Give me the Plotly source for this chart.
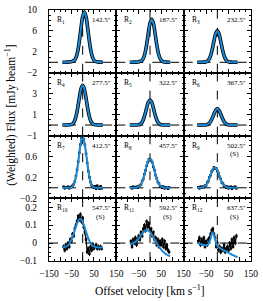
import plotly.graph_objects as go
from plotly.subplots import make_subplots

# ---------------- data ----------------
velocity_fit = [-90, -82.5, -75, -67.5, -60, -52.5, -45, -37.5, -30, -22.5, -15, -7.5, 0,
                7.5, 15, 22.5, 30, 37.5, 45, 52.5, 60, 67.5, 75, 82.5, 90]
velocity_data = [-85, -80, -75, -70, -65, -60, -55, -50, -45, -40, -35, -30, -25, -20, -15, -10, -5, 0,
                 5, 10, 15, 20, 25, 30, 35, 40, 45, 50, 55, 60, 65, 70, 75, 80, 85]

region_labels = ["R<sub>1</sub>", "R<sub>2</sub>", "R<sub>3</sub>", "R<sub>4</sub>", "R<sub>5</sub>",
                 "R<sub>6</sub>", "R<sub>7</sub>", "R<sub>8</sub>", "R<sub>9</sub>", "R<sub>10</sub>",
                 "R<sub>11</sub>", "R<sub>12</sub>"]
region_offsets = ["142.5″", "187.5″", "232.5″", "277.5″", "322.5″", "367.5″",
                  "412.5″", "457.5″", "502.5″", "547.5″", "592.5″", "637.5″"]
region_flags = ["", "", "", "", "", "", "", "", "(S)", "(S)", "(S)", "(S)"]

fit_R1 = [0.0, 0.0, 0.02, 0.03, 0.05, 0.08, 0.2, 0.35, 0.85, 2.0, 4.0, 6.5, 8.7, 9.6, 8.7, 6.5, 4.0,
          2.0, 0.85, 0.3, 0.12, 0.06, 0.03, 0.02, 0.0]
fit_R2 = [0.0, 0.0, 0.02, 0.03, 0.04, 0.07, 0.17, 0.3, 0.72, 1.7, 3.4, 5.55, 7.45, 8.2, 7.45, 5.55,
          3.4, 1.7, 0.72, 0.26, 0.1, 0.05, 0.03, 0.02, 0.0]
fit_R3 = [0.0, 0.0, 0.01, 0.02, 0.03, 0.06, 0.18, 0.53, 1.27, 2.5, 4.07, 5.44, 6.0, 5.44, 4.07, 2.5,
          1.27, 0.53, 0.18, 0.06, 0.03, 0.02, 0.01, 0.0, 0.0]
fit_R4 = [0.0, 0.0, 0.01, 0.01, 0.02, 0.04, 0.11, 0.33, 0.8, 1.58, 2.58, 3.45, 3.8, 3.45, 2.58, 1.58,
          0.8, 0.33, 0.11, 0.04, 0.02, 0.01, 0.01, 0.0, 0.0]
fit_R5 = [0.0, 0.0, 0.0, 0.01, 0.01, 0.02, 0.07, 0.21, 0.51, 1.0, 1.63, 2.18, 2.4, 2.18, 1.63, 1.0,
          0.51, 0.21, 0.07, 0.02, 0.01, 0.01, 0.0, 0.0, 0.0]
fit_R6 = [0.0, 0.0, 0.0, 0.0, 0.01, 0.01, 0.05, 0.14, 0.33, 0.64, 1.05, 1.41, 1.55, 1.41, 1.05, 0.64,
          0.33, 0.14, 0.05, 0.01, 0.01, 0.0, 0.0, 0.0, 0.0]
fit_R7 = [0.0, 0.0, 0.0, 0.0, 0.0, 0.003, 0.03, 0.085, 0.205, 0.4, 0.66, 0.88, 0.98, 0.88, 0.66, 0.4,
          0.205, 0.085, 0.03, 0.003, 0.0, 0.0, 0.0, 0.0, 0.0]
fit_R8 = [0.0, 0.0, 0.0, 0.0, 0.006, 0.018, 0.044, 0.095, 0.179, 0.292, 0.415, 0.513, 0.55, 0.513,
          0.415, 0.292, 0.179, 0.095, 0.044, 0.018, 0.006, 0.0, 0.0, 0.0, 0.0]
fit_R9 = [0.0, 0.0, 0.002, 0.007, 0.02, 0.046, 0.093, 0.163, 0.248, 0.329, 0.378, 0.378, 0.329,
          0.248, 0.163, 0.093, 0.046, 0.02, 0.007, 0.002, 0.0, 0.0, 0.0, 0.0, 0.0]
fit_R10 = [-0.024, -0.023, -0.02, -0.015, -0.005, 0.012, 0.035, 0.063, 0.093, 0.118, 0.133, 0.133,
           0.118, 0.093, 0.063, 0.035, 0.012, -0.005, -0.015, -0.02, -0.023, -0.024, -0.025, -0.025, -0.025]
fit_R11 = [-0.005, -0.003, 0.0, 0.005, 0.012, 0.022, 0.035, 0.048, 0.06, 0.068, 0.072, 0.07, 0.062,
           0.048, 0.032, 0.015, 0.0, -0.015, -0.028, -0.04, -0.05, -0.058, -0.065, -0.07, -0.073]
fit_R12 = [0.0, -0.003, -0.006, -0.009, -0.011, -0.012, -0.01, 0.0, 0.025, 0.06, 0.045, 0.01, -0.015,
           -0.024, -0.03, -0.036, -0.041, -0.046, -0.051, -0.056, -0.061, -0.066, -0.07, -0.075, -0.078]

data_R7 = [0.02, -0.01, 0.01, 0.0, 0.02, -0.01, 0.01, 0.02, 0.04, 0.07, 0.12, 0.22, 0.34, 0.5, 0.67,
           0.83, 0.95, 0.99, 0.93, 0.82, 0.65, 0.48, 0.32, 0.2, 0.11, 0.05, 0.03, 0.0, 0.03, -0.02,
           0.04, 0.01, -0.02, 0.03, -0.01]
data_R8 = [0.01, -0.01, 0.02, 0.0, 0.01, 0.02, 0.0, 0.03, 0.05, 0.07, 0.13, 0.17, 0.26, 0.33, 0.42,
           0.49, 0.54, 0.55, 0.52, 0.49, 0.4, 0.34, 0.24, 0.18, 0.11, 0.08, 0.03, 0.03, 0.0, 0.02,
           -0.01, 0.01, 0.0, -0.02, 0.01]
data_R9 = [0.01, -0.01, 0.02, 0.0, 0.02, 0.01, 0.04, 0.05, 0.1, 0.13, 0.2, 0.24, 0.31, 0.34, 0.39,
           0.37, 0.37, 0.32, 0.28, 0.21, 0.17, 0.1, 0.08, 0.04, 0.03, 0.0, 0.02, -0.01, 0.01, 0.02,
           -0.02, 0.01, 0.0, 0.02, -0.01]
data_R10 = [-0.02, -0.04, -0.01, -0.03, 0.0, -0.02, 0.02, 0.01, 0.05, 0.04, 0.08, 0.1, 0.12, 0.15,
            0.13, 0.16, 0.12, 0.14, 0.09, 0.06, 0.02, -0.05, -0.03, -0.06, -0.02, -0.04, -0.01,
            -0.03, -0.02, -0.01, -0.03, -0.02, -0.03, -0.02, -0.03]
data_R11 = [0.01, -0.02, 0.02, 0.0, 0.03, -0.01, 0.02, 0.04, 0.02, 0.06, 0.04, 0.08, 0.1, 0.07, 0.12,
            0.09, 0.11, 0.07, 0.08, 0.04, 0.06, 0.02, 0.03, -0.01, 0.02, -0.02, 0.01, -0.01, 0.02,
            -0.02, 0.01, -0.03, -0.01, -0.04, -0.05]
data_R12 = [0.01, 0.03, -0.01, 0.02, 0.0, 0.03, -0.02, 0.01, -0.01, 0.02, 0.03, 0.05, 0.07, 0.08,
            0.05, 0.03, -0.02, 0.0, -0.04, -0.02, -0.05, -0.03, -0.04, -0.01, -0.05, -0.03, -0.02,
            -0.04, 0.0, -0.03, 0.02, -0.02, 0.03, 0.0, 0.04]

fits = [fit_R1, fit_R2, fit_R3, fit_R4, fit_R5, fit_R6, fit_R7, fit_R8, fit_R9, fit_R10, fit_R11, fit_R12]
datas = [None, None, None, None, None, None, data_R7, data_R8, data_R9, data_R10, data_R11, data_R12]
data_errors = [0, 0, 0, 0, 0, 0, 0.02, 0.02, 0.02, 0.012, 0.012, 0.012]

x_tickvals = [-150, -100, -50, 0, 50, 100, 150]
x_ticktext_first = ["−150", "", "−50", "", "50", "", "150"]
x_ticktext_other = ["", "", "−50", "", "50", "", "150"]

row_ranges = [[-2, 10], [-1, 5], [-0.2, 1.0], [-0.1, 0.25]]
row_tickvals = [[-2, 2, 6, 10], [-1, 1, 3], [-0.2, 0.2, 0.6], [-0.1, 0, 0.1, 0.2]]
row_ticktext = [["−2", "2", "6", "10"], ["−1", "1", "3"], ["−0.2", "0.2", "0.6"], ["−0.1", "0", "0.1", "0.2"]]
row_minor = [1, 0.5, 0.1, 0.025]

# ---------------- figure ----------------
FONT = "Liberation Serif"
BLUE = "#1a8ad8"

fig = make_subplots(rows=4, cols=3, shared_xaxes=True, shared_yaxes=True,
                    horizontal_spacing=0, vertical_spacing=0)

for i in range(12):
    r, c = i // 3 + 1, i % 3 + 1
    n = i + 1
    fit = fits[i]
    d = datas[i]
    if d is None:
        fig.add_trace(go.Scatter(x=velocity_fit, y=fit, mode="lines", line=dict(color="black", width=3.6, shape="spline"),
                                 hoverinfo="skip", showlegend=False), row=r, col=c)
    else:
        fig.add_trace(go.Scatter(x=velocity_data, y=d, mode="lines+markers",
                                 line=dict(color="black", width=1.2),
                                 marker=dict(color="black", size=2.5, symbol="square"),
                                 error_y=dict(type="constant", value=data_errors[i], color="black", thickness=1, width=0),
                                 showlegend=False), row=r, col=c)
    fig.add_trace(go.Scatter(x=velocity_fit, y=fit, mode="lines", line=dict(color=BLUE, width=2, shape="spline"),
                             showlegend=False), row=r, col=c)
    # dashed reference lines
    fig.add_hline(y=0, row=r, col=c, line=dict(color="black", width=1, dash="dash"), layer="below")
    fig.add_vline(x=0, row=r, col=c, line=dict(color="black", width=1, dash="dash"), layer="below")

    xr = "x domain" if n == 1 else f"x{n} domain"
    yr = "y domain" if n == 1 else f"y{n} domain"
    fig.add_annotation(xref=xr, yref=yr, x=0.09, y=0.84, text=region_labels[i], showarrow=False,
                       xanchor="left", yanchor="middle", font=dict(family=FONT, size=7.5, color="black"))
    fig.add_annotation(xref=xr, yref=yr, x=0.95, y=0.84, text=region_offsets[i], showarrow=False,
                       xanchor="right", yanchor="middle", font=dict(family=FONT, size=7, color="black"))
    if region_flags[i]:
        fig.add_annotation(xref=xr, yref=yr, x=0.76, y=0.70, text=region_flags[i], showarrow=False,
                           xanchor="center", yanchor="middle", font=dict(family=FONT, size=7, color="black"))

fig.update_xaxes(range=[-150, 150], tickvals=x_tickvals, ticktext=x_ticktext_other,
                 ticks="inside", ticklen=4, tickwidth=1, tickcolor="black",
                 minor=dict(dtick=25, tick0=-150, ticks="inside", ticklen=2, tickcolor="black"),
                 mirror="allticks", showline=True, linecolor="black", linewidth=1,
                 showgrid=False, zeroline=False, ticklabelstandoff=4,
                 tickfont=dict(family=FONT, size=9.5, color="black"))
fig.update_xaxes(ticktext=x_ticktext_first, row=4, col=1)

for r in range(1, 5):
    fig.update_yaxes(range=row_ranges[r - 1], tickvals=row_tickvals[r - 1], ticktext=row_ticktext[r - 1],
                     minor=dict(dtick=row_minor[r - 1], ticks="inside", ticklen=2, tickcolor="black"),
                     row=r)
fig.update_yaxes(ticks="inside", ticklen=4, tickwidth=1, tickcolor="black",
                 mirror="allticks", showline=True, linecolor="black", linewidth=1,
                 showgrid=False, zeroline=False, ticklabelstandoff=9,
                 tickfont=dict(family=FONT, size=9.5, color="black"))

fig.add_annotation(xref="paper", yref="paper", x=0.5, y=-0.117, text="Offset velocity [km s<sup>−1</sup>]",
                   showarrow=False, xanchor="center", yanchor="middle", font=dict(family=FONT, size=11.5, color="black"))
fig.add_annotation(xref="paper", yref="paper", x=-0.191, y=0.58, text="(Weighted) Flux [mJy beam<sup>−1</sup>]",
                   showarrow=False, textangle=-90, xanchor="center", yanchor="middle",
                   font=dict(family=FONT, size=11.5, color="black"))

fig.update_layout(width=263, height=301, margin=dict(l=49, r=10, t=5, b=40),
                  paper_bgcolor="white", plot_bgcolor="white")

fig.write_html("out.html", config={"displayModeBar": False},
               post_script="document.body.style.margin='0';document.body.style.padding='0';")
